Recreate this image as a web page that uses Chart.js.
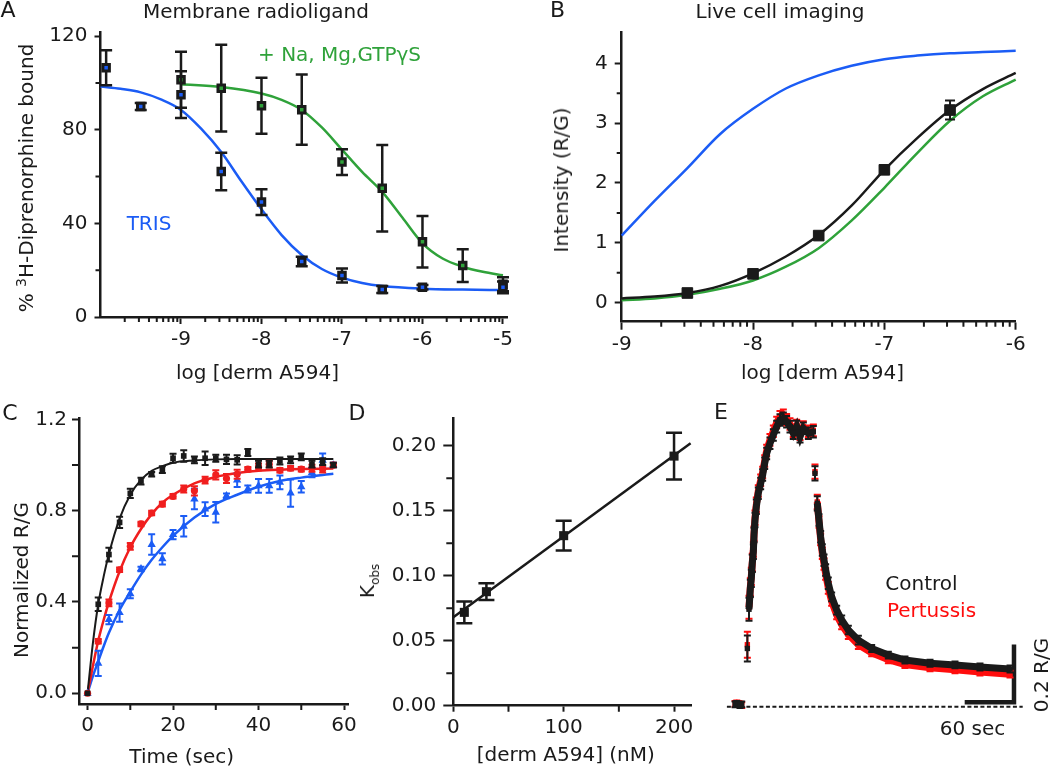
<!DOCTYPE html>
<html>
<head>
<meta charset="utf-8">
<script src="https://cdn.jsdelivr.net/npm/chart.js"></script>
<style>
  body { margin: 0; background: #fff; }
  #page { position: relative; width: 1050px; height: 770px; overflow: hidden; background: #fff; }
  #page canvas { position: absolute; left: 0; top: 0; }
  .lbl { position: absolute; white-space: nowrap; line-height: 1; font-family: 'DejaVu Sans', sans-serif;
         font-size: 20px; color: #1a1a1a; transform: translate(-50%, -50%); }
</style>
</head>
<body>
<div id="page">
  <canvas id="chartA" width="1050" height="770"></canvas>
  <canvas id="chartB" width="1050" height="770"></canvas>
  <canvas id="chartC" width="1050" height="770"></canvas>
  <canvas id="chartD" width="1050" height="770"></canvas>
  <canvas id="chartE" width="1050" height="770"></canvas>
</div>
<script>
const INK = '#1a1a1a';
const BLUE = '#1b5cf5';
const GREEN = '#2fa23a';
const RED = '#f01e1e';

// ---- A: membrane radioligand (log [derm A594] vs % bound) ----
const aTrisLog = [-9.93, -9.5, -9, -8.5, -8, -7.5, -7, -6.5, -6, -5];
const aTris = [106.5, 90, 95, 62.2, 49.1, 23.7, 17.7, 11.8, 12.7, 12.7];
const aTrisErr = [7.5, 1.5, 10, 8, 5.5, 2, 3, 1.5, 1, 2.5];
const aGtpLog = [-9, -8.5, -8, -7.5, -7, -6.5, -6, -5.5, -5];
const aGtp = [101.4, 97.8, 90.3, 88.6, 66.2, 55, 32.2, 22, 14];
const aGtpErr = [12, 18.5, 12, 15, 5.5, 18.5, 11, 7, 3];
const aTrisFitLog = [-10, -9.75, -9.5, -9.25, -9, -8.75, -8.5, -8.25, -8, -7.75, -7.5, -7.25, -7, -6.75, -6.5, -6, -5.5, -5];
const aTrisFit = [98.5, 97.5, 96, 93, 88.5, 80.5, 70.5, 58, 46, 35, 26.5, 20.5, 16.8, 14.5, 13.2, 12.1, 11.7, 11.5];
const aGtpFitLog = [-9, -8.5, -8, -7.75, -7.5, -7.25, -7, -6.75, -6.5, -6.25, -6, -5.75, -5.5, -5.25, -5];
const aGtpFit = [99.5, 98.3, 95.5, 92.8, 88.5, 81, 71.5, 62, 53.5, 42.5, 31.5, 25, 21.5, 19.3, 17.8];
const aXTicks = [-9, -8, -7, -6, -5];
const aYTicks = [0, 40, 80, 120];
const aYMinor = [20, 60, 100];

// ---- B: live cell imaging ----
const bLog = [-8.5, -8, -7.5, -7, -6.5];
const bSignal = [0.16, 0.48, 1.12, 2.22, 3.22];
const bErr = [0.06, 0.04, 0.05, 0.06, 0.16];
const bFitLog = [-9, -8.75, -8.5, -8.25, -8, -7.75, -7.5, -7.25, -7, -6.75, -6.5, -6.25, -6];
const bFitBlue = [1.12, 1.70, 2.25, 2.82, 3.24, 3.58, 3.80, 3.96, 4.07, 4.13, 4.17, 4.19, 4.21];
const bFitBlack = [0.07, 0.10, 0.16, 0.28, 0.49, 0.77, 1.13, 1.62, 2.22, 2.75, 3.22, 3.57, 3.84];
const bFitGreen = [0.04, 0.07, 0.13, 0.23, 0.37, 0.60, 0.91, 1.37, 1.92, 2.50, 3.04, 3.45, 3.73];
const bXTicks = [-9, -8, -7, -6];
const bYTicks = [0, 1, 2, 3, 4];
const bYMinor = [0.5, 1.5, 2.5, 3.5];

// ---- C: association time course ----
const cTime = [0, 2.5, 5, 7.5, 10, 12.5, 15, 17.5, 20, 22.5, 25, 27.5, 30, 32.5, 35, 37.5, 40, 42.5, 45, 47.5, 50, 52.5, 55, 57.5];
const cBlack = [0, 0.39, 0.608, 0.749, 0.876, 0.93, 0.96, 0.98, 1.03, 1.04, 1.023, 1.03, 1.03, 1.025, 1.023, 1.055, 1.004, 1.004, 1.018, 1.023, 1.036, 1.004, 1.015, 1.0];
const cBlackErr = [0, 0.03, 0.03, 0.025, 0.02, 0.015, 0.01, 0.015, 0.02, 0.025, 0.015, 0.03, 0.015, 0.02, 0.02, 0.015, 0.015, 0.015, 0.015, 0.015, 0.015, 0.015, 0.015, 0.01];
const cRed = [0, 0.228, 0.396, 0.541, 0.644, 0.742, 0.79, 0.829, 0.863, 0.895, 0.887, 0.934, 0.957, 0.941, 0.96, 0.982, 0.992, 1.004, 0.977, 0.986, 0.982, 0.986, 0.982, 1.0];
const cRedErr = [0, 0.01, 0.015, 0.01, 0.015, 0.01, 0.01, 0.01, 0.01, 0.015, 0.02, 0.015, 0.02, 0.02, 0.02, 0.01, 0.015, 0.015, 0.01, 0.01, 0.01, 0.015, 0.015, 0.01];
const cBlue = [0, 0.131, 0.323, 0.353, 0.436, 0.545, 0.652, 0.589, 0.695, 0.732, 0.851, 0.807, 0.793, 0.865, 0.934, 0.895, 0.909, 0.909, 0.924, 0.877, 0.905, 0.967, 1.021, 1.0];
const cBlueErr = [0, 0.055, 0.02, 0.04, 0.02, 0.01, 0.045, 0.025, 0.02, 0.045, 0.045, 0.03, 0.045, 0.01, 0.03, 0.015, 0.03, 0.03, 0.03, 0.06, 0.025, 0.02, 0.03, 0.01];
const cFitTime = [0, 1.25, 2.5, 3.75, 5, 7.5, 10, 12.5, 15, 17.5, 20, 25, 30, 35, 40, 45, 50, 57.5];
const cFitBlack = [0, 0.22, 0.39, 0.51, 0.61, 0.765, 0.87, 0.935, 0.975, 0.995, 1.01, 1.02, 1.025, 1.027, 1.027, 1.027, 1.027, 1.027];
const cFitRed = [0, 0.12, 0.23, 0.32, 0.40, 0.535, 0.64, 0.72, 0.785, 0.835, 0.87, 0.92, 0.948, 0.965, 0.975, 0.98, 0.983, 0.985];
const cFitBlue = [0, 0.075, 0.14, 0.205, 0.265, 0.365, 0.445, 0.52, 0.585, 0.64, 0.69, 0.77, 0.83, 0.87, 0.905, 0.93, 0.945, 0.962];
const cXTicks = [0, 20, 40, 60];
const cXMinor = [10, 30, 50];
const cYTicks = [0, 0.4, 0.8, 1.2];
const cYMinor = [0.2, 0.6, 1.0];

// ---- D: kobs vs concentration ----
const dConc = [10, 30, 100, 200];
const dKobs = [0.0718, 0.0877, 0.1308, 0.192];
const dErr = [0.0083, 0.0064, 0.0115, 0.018];
const dFitConc = [0, 215];
const dFitKobs = [0.068, 0.2018];
const dXTicks = [0, 100, 200];
const dXMinor = [50, 150];
const dYTicks = [0, 0.05, 0.10, 0.15, 0.20];
const dYMinor = [0.025, 0.075, 0.125, 0.175];

// ---- E: wash-in / wash-out trace (sec, R/G), null = gap ----
const eTime = [-8, -6, -4, -2, 0, 3,
  6.9, 7.9, 8.9, 10.5, 11.7, 12.9, 14.2, 15.0, 16.2, 17.8, 20.2, 23.1, 25.5, 28.0, 30.4, 34.4, 38.5, 42.6, 46.6, 50.7, 54.7, 58.8, 62.8, 66.9, 71.0, 75.0, 81.1, 87.2,
  88.2,
  89.2, 90.6, 92.0, 94.1, 96.1, 98.1, 100.2, 102.2, 105.4, 109.5, 115.6, 121.7, 129.8, 142.0, 158.2, 178.5, 198.7, 229.2, 259.6, 290.0, 326.6];
const eControl = [0.008, 0.010, 0.008, 0.006, 0.008, null,
  0.202, null, 0.338, 0.410, 0.445, 0.497, 0.537, 0.595, 0.647, 0.693, 0.740, 0.774, 0.803, 0.844, 0.878, 0.913, 0.942, 0.971, 0.994, 1.0, 0.988, 0.971, 0.948, 0.971, 0.936, 0.965, 0.948, 0.953,
  null,
  0.809, null, 0.705, 0.647, 0.589, 0.543, 0.508, 0.474, 0.428, 0.381, 0.335, 0.301, 0.266, 0.231, 0.202, 0.179, 0.162, 0.151, 0.145, 0.138, 0.131];
const ePertussis = [0.010, 0.012, 0.010, 0.008, 0.006, null,
  0.215, null, 0.345, 0.415, 0.452, 0.500, 0.545, 0.600, 0.655, 0.700, 0.748, 0.785, 0.812, 0.852, 0.888, 0.925, 0.955, 0.985, 1.005, 1.010, 0.995, 0.980, 0.955, 0.975, 0.945, 0.970, 0.955, 0.958,
  null,
  0.815, null, 0.710, 0.640, 0.580, 0.532, 0.495, 0.460, 0.412, 0.365, 0.318, 0.284, 0.250, 0.215, 0.187, 0.163, 0.146, 0.135, 0.128, 0.120, 0.113];
const eErr = [0.01, 0.01, 0.01, 0.01, 0.01, 0,
  0.045, 0, 0.04, 0.03, 0.03, 0.03, 0.025, 0.025, 0.025, 0.025, 0.02, 0.02, 0.02, 0.02, 0.02, 0.02, 0.02, 0.02, 0.02, 0.02, 0.02, 0.02, 0.02, 0.02, 0.02, 0.02, 0.02, 0.02,
  0,
  0.025, 0, 0.025, 0.02, 0.02, 0.02, 0.02, 0.02, 0.02, 0.015, 0.015, 0.015, 0.015, 0.015, 0.012, 0.012, 0.012, 0.012, 0.012, 0.012, 0.012];
const eBaselineT = [-18, 342];
const eBaselineY = [0, 0];
const eScaleBarT = [271.4, 331.4, 331.4];   // 60 sec
const eScaleBarY = [0.016, 0.016, 0.216];   // 0.2 R/G

const logSteps = [2, 3, 4, 5, 6, 7, 8, 9];
const logMinor = decades => decades.flatMap(d => logSteps.map(m => d + Math.log10(m)));

const pts = (xs, ys) => xs.map((x, i) => ({ x, y: ys[i] }));

// error bars drawn just before the dataset, so markers sit on top
const errorBars = {
  id: 'errorBars',
  beforeDatasetDraw(chart, args) {
    const ds = chart.data.datasets[args.index];
    if (!ds.errors) return;
    const xs = chart.scales.x, ys = chart.scales.y, ctx = chart.ctx;
    const cw = ds.capWidth || 5;
    ctx.save();
    ctx.strokeStyle = ds.errColor || INK;
    ctx.lineWidth = ds.errWidth || 2;
    ctx.beginPath();
    ds.data.forEach((p, i) => {
      const e = ds.errors[i];
      if (p.y == null || !e) return;
      const px = xs.getPixelForValue(p.x);
      const top = ys.getPixelForValue(p.y + e);
      const bot = ys.getPixelForValue(p.y - e);
      ctx.moveTo(px, top); ctx.lineTo(px, bot);
      ctx.moveTo(px - cw, top); ctx.lineTo(px + cw, top);
      ctx.moveTo(px - cw, bot); ctx.lineTo(px + cw, bot);
    });
    ctx.stroke();
    ctx.restore();
  }
};

function minorTicks(m) {
  return {
    id: 'minorTicks',
    afterDraw(chart) {
      const { ctx, chartArea: a, scales: { x, y } } = chart;
      ctx.save();
      ctx.strokeStyle = INK;
      ctx.lineWidth = 2;
      ctx.beginPath();
      (m.x || []).forEach(v => {
        if (v <= x.min || v > x.max) return;
        const px = x.getPixelForValue(v);
        ctx.moveTo(px, a.bottom); ctx.lineTo(px, a.bottom + m.xLen);
      });
      (m.y || []).forEach(v => {
        if (v < y.min || v > y.max) return;
        const py = y.getPixelForValue(v);
        ctx.moveTo(a.left, py); ctx.lineTo(a.left - m.yLen, py);
      });
      ctx.stroke();
      ctx.restore();
    }
  };
}

function curve(xs, ys, color, width) {
  return { data: pts(xs, ys), showLine: true, pointRadius: 0, borderColor: color, borderWidth: width || 2.5,
           cubicInterpolationMode: 'monotone', clip: false, order: 3 };
}

function markers(xs, ys, errs, o) {
  return Object.assign({
    data: pts(xs, ys), showLine: false, errors: errs, clip: false, order: 1,
    pointStyle: 'rect', pointRadius: 6, pointBorderWidth: 2.5,
    pointBorderColor: INK, pointBackgroundColor: INK, borderColor: INK, backgroundColor: INK
  }, o);
}

const YW = 70, XH = 50, W = 1050, H = 770;

function axis(a, horiz) {
  return {
    type: 'linear', min: a.min, max: a.max,
    afterBuildTicks: s => { s.ticks = a.ticks.map(v => ({ value: v })); },
    afterFit: s => { if (horiz) s.height = XH; else s.width = YW; },
    grid: { display: true, drawOnChartArea: false, drawTicks: true, tickLength: a.len, tickWidth: 2, tickColor: INK },
    border: { display: true, color: INK, width: 2.5 },
    ticks: { padding: a.pad, color: INK, autoSkip: false, maxRotation: 0, font: { family: 'DejaVu Sans', size: 20 },
             callback: a.fmt || (v => String(v)) }
  };
}

function panel(id, area, xa, ya, datasets, minor) {
  const hidden = !xa.ticks;
  const padding = hidden
    ? { left: area.left, right: W - area.right, top: area.top, bottom: H - area.bottom }
    : { left: area.left - YW, right: W - area.right, top: area.top, bottom: H - area.bottom - XH };
  const scales = hidden
    ? { x: { type: 'linear', display: false, min: xa.min, max: xa.max }, y: { type: 'linear', display: false, min: ya.min, max: ya.max } }
    : { x: axis(xa, true), y: axis(ya, false) };
  return new Chart(document.getElementById(id), {
    type: 'scatter',
    data: { datasets },
    options: {
      responsive: false, animation: false, events: [],
      layout: { padding },
      plugins: { legend: { display: false }, tooltip: { enabled: false } },
      scales
    },
    plugins: [errorBars, minorTicks(minor || {})]
  });
}

// A
panel('chartA', { left: 100.5, right: 507, top: 32.7, bottom: 317 },
  { min: -10, max: -4.95, ticks: aXTicks, len: 7, pad: 4 },
  { min: 0, max: 121.5, ticks: aYTicks, len: 6, pad: 7 },
  [
    markers(aTrisLog, aTris, aTrisErr, { pointRadius: 4.6, pointBorderWidth: 3, pointBackgroundColor: BLUE, errWidth: 2.5, capWidth: 6 }),
    markers(aGtpLog, aGtp, aGtpErr, { pointRadius: 4.6, pointBorderWidth: 3, pointBackgroundColor: GREEN, errWidth: 2.5, capWidth: 6 }),
    curve(aTrisFitLog, aTrisFit, BLUE),
    curve(aGtpFitLog, aGtpFit, GREEN)
  ],
  { x: logMinor([-10, -9, -8, -7, -6]), y: aYMinor, xLen: 5, yLen: 5 });

// B
panel('chartB', { left: 621.7, right: 1015.7, top: 32.3, bottom: 321.7 },
  { min: -9, max: -6, ticks: bXTicks, len: 8, pad: 3 },
  { min: -0.32, max: 4.52, ticks: bYTicks, len: 7, pad: 7 },
  [
    markers(bLog, bSignal, bErr, { pointRadius: 7.5, pointBorderWidth: 1, errWidth: 2, capWidth: 5 }),
    curve(bFitLog, bFitBlack, INK),
    curve(bFitLog, bFitGreen, GREEN),
    curve(bFitLog, bFitBlue, BLUE)
  ],
  { x: logMinor([-9, -8, -7]), y: bYMinor, xLen: 5, yLen: 5 });

// C
panel('chartC', { left: 79, right: 348.3, top: 418.3, bottom: 704 },
  { min: -2, max: 61, ticks: cXTicks, len: 6, pad: 4 },
  { min: -0.047, max: 1.205, ticks: cYTicks, len: 7, pad: 5, fmt: v => v.toFixed(1) },
  [
    markers(cTime, cBlack, cBlackErr, { pointRadius: 4, pointBorderWidth: 0, errColor: INK, errWidth: 2, capWidth: 3.5 }),
    markers(cTime, cRed, cRedErr, { pointStyle: 'circle', pointRadius: 3.6, pointBorderWidth: 0,
      pointBackgroundColor: RED, pointBorderColor: RED, errColor: RED, errWidth: 2, capWidth: 3.5, order: 2 }),
    markers(cTime, cBlue, cBlueErr, { pointStyle: 'triangle', pointRadius: 4.8, pointBorderWidth: 0,
      pointBackgroundColor: BLUE, pointBorderColor: BLUE, errColor: BLUE, errWidth: 2, capWidth: 3.5, order: 2.5 }),
    curve(cFitTime, cFitBlack, INK, 2),
    curve(cFitTime, cFitRed, RED),
    curve(cFitTime, cFitBlue, BLUE)
  ],
  { x: cXMinor, y: cYMinor, xLen: 6, yLen: 7 });

// D
panel('chartD', { left: 453.3, right: 691.7, top: 418.4, bottom: 705.7 },
  { min: 0, max: 216, ticks: dXTicks, len: 6, pad: 4 },
  { min: 0, max: 0.221, ticks: dYTicks, len: 10, pad: 7, fmt: v => v.toFixed(2) },
  [
    markers(dConc, dKobs, dErr, { pointRadius: 6.4, pointBorderWidth: 0, errWidth: 2.5, capWidth: 8 }),
    Object.assign(curve(dFitConc, dFitKobs, INK), { cubicInterpolationMode: 'default', tension: 0 })
  ],
  { x: dXMinor, y: dYMinor, xLen: 6, yLen: 7 });

// E
panel('chartE', { left: 726.9, right: 1022.7, top: 406.7, bottom: 715.4 },
  { min: -18, max: 342 },
  { min: -0.03, max: 1.04 },
  [
    markers(eTime, eControl, eErr, { showLine: true, borderWidth: 7, pointRadius: 3.8, pointBorderWidth: 0,
      errWidth: 2, capWidth: 3.5, order: 1 }),
    markers(eTime, ePertussis, eErr, { showLine: true, borderWidth: 7, borderColor: '#ff0d0d', pointRadius: 3.8,
      pointBorderWidth: 0, pointBackgroundColor: '#ff0d0d', pointBorderColor: '#ff0d0d', errColor: '#ff0d0d',
      errWidth: 2, capWidth: 3.5, order: 2 }),
    { data: pts(eBaselineT, eBaselineY), showLine: true, pointRadius: 0, borderColor: INK, borderWidth: 2,
      borderDash: [4, 2.5], clip: false, order: 5 },
    { data: pts(eScaleBarT, eScaleBarY), showLine: true, pointRadius: 0, borderColor: INK, borderWidth: 4.5,
      borderJoinStyle: 'miter', clip: false, order: 5 }
  ]);

// text labels
function label(html, cx, cy, o) {
  o = o || {};
  const el = document.createElement('div');
  el.className = 'lbl';
  el.innerHTML = html;
  el.style.left = cx + 'px';
  el.style.top = cy + 'px';
  if (o.size) el.style.fontSize = o.size + 'px';
  if (o.color) el.style.color = o.color;
  if (o.rot) el.style.transform = 'translate(-50%, -50%) rotate(' + o.rot + 'deg)';
  document.getElementById('page').appendChild(el);
}

label('A', 8, 10, { size: 22 });
label('B', 557.5, 10, { size: 22 });
label('C', 10, 413, { size: 22 });
label('D', 357, 413, { size: 22 });
label('E', 721, 412, { size: 22 });

label('Membrane radioligand', 256, 11);
label('Live cell imaging', 780, 11);
label('+ Na, Mg,GTP&gamma;S', 339.5, 53.7, { color: GREEN });
label('TRIS', 149, 222.5, { color: BLUE });

label('% <span style="font-size:14px;position:relative;top:-7px">3</span>H-Diprenorphine bound', 26, 177.5, { rot: -90 });
label('log [derm A594]', 257.5, 372);
label('Intensity (R/G)', 560.5, 180, { rot: -90 });
label('log [derm A594]', 822.5, 372);
label('Normalized R/G', 21, 580, { rot: -90 });
label('Time (sec)', 181.7, 755.5);
label('K<span style="font-size:12px;position:relative;top:5px">obs</span>', 367, 581, { rot: -90 });
label('[derm A594] (nM)', 565.8, 754);

label('Control', 921.5, 583.3);
label('Pertussis', 931.5, 609.5, { color: '#ff0d0d' });
label('60 sec', 972.5, 727.5);
label('0.2 R/G', 1041, 675, { rot: -90 });
</script>
</body>
</html>
